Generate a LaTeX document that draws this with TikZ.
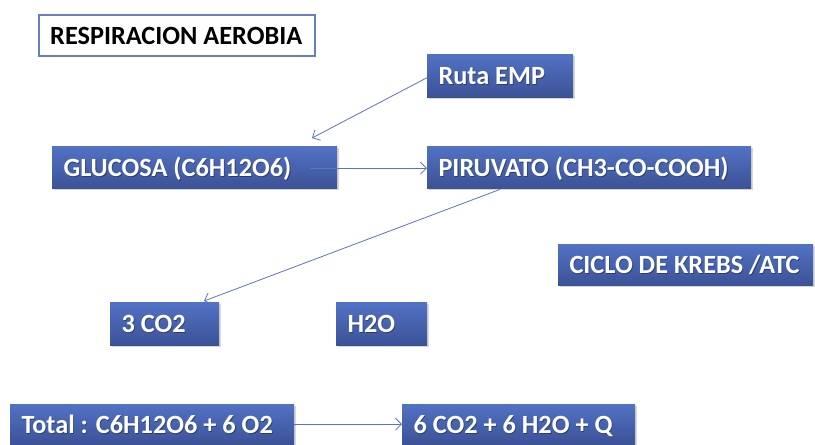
\documentclass[tikz,border=0pt]{standalone}
\usepackage{fontspec}
\setmainfont{Carlito}
\usetikzlibrary{arrows.meta,shadows,calc}
\definecolor{boxtop}{HTML}{5272C4}
\definecolor{boxbot}{HTML}{3C5297}
\definecolor{arrowc}{HTML}{5B73BD}
\definecolor{titleb}{HTML}{6A7DBE}
\tikzset{
  bx/.style={anchor=north west, rectangle, top color=boxtop, bottom color=boxbot,
    draw=none, inner sep=0pt,
    drop shadow={shadow xshift=1.5pt, shadow yshift=-2pt, fill=black!40, opacity=0.4}},
  titlebox/.style={anchor=north west, rectangle, draw=titleb, line width=2pt, fill=white, inner sep=0pt},
  lbl/.style={anchor=base west, inner sep=0pt, text=white, font=\bfseries\fontsize{26.3}{28}\selectfont},
  lblsh/.style={lbl, text=black, opacity=0.35},
  tlbl/.style={anchor=base west, inner sep=0pt, text=black, font=\bfseries\fontsize{26.3}{28}\selectfont},
  conn/.style={draw=arrowc, line width=0.8pt, -{Straight Barb[length=6pt,width=12pt]}}
}
% style, name, pos, width, height, text
\newcommand{\bxnode}[6]{%
  \node[#1, minimum width=#4pt, minimum height=#5pt] (#2) at (#3) {};
  \node[lblsh] (#2-s) at ($(#2.west)+(12.1,9.8)$) {#6};
  \node[lbl] (#2-t) at ($(#2.west)+(11.3,9)$) {#6};}
\begin{document}
\begin{tikzpicture}[x=1pt,y=-1pt]
\useasboundingbox (0,0) rectangle (815,445);
\node[titlebox, minimum width=276pt, minimum height=41pt] (title) at (38,14) {};
\node[tlbl] (title-t) at ($(title.west)+(12,9)$) {RESPIRACION AEROBIA};
\bxnode{bx}{ruta}{427,54}{146}{43}{Ruta EMP}
\bxnode{bx}{glu}{52,146}{285}{42}{GLUCOSA (C6H12O6)}
\bxnode{bx}{piru}{427,146}{324}{42}{PIRUVATO (CH3-CO-COOH)}
\bxnode{bx}{krebs}{558,244}{255}{41}{CICLO DE KREBS /ATC}
\bxnode{bx}{co2}{110,302}{109}{43}{3 CO2}
\bxnode{bx}{h2o}{336,302}{91}{43}{H2O}
\bxnode{bx}{tot}{10,404}{284}{40}{Total : C6H12O6 + 6 O2}
\bxnode{bx}{prod}{402,404}{233}{40}{6 CO2 + 6 H2O + Q}
\coordinate (rutaend) at ($(glu.north west)+(260,-8)$);
\coordinate (glustart) at ($(glu.east)+(-27,1)$);
\coordinate (pirustart) at ($(piru.south west)+(73,1)$);
\coordinate (co2end) at ($(co2.north west)+(94,-1)$);
\draw[conn] ($(ruta.west)+(0,2)$) -- (rutaend);
\draw[conn] (glustart) -- (piru.west |- glustart);
\draw[conn] (pirustart) -- (co2end);
\draw[conn] (tot.east) -- (prod.west);
\end{tikzpicture}
\end{document}
